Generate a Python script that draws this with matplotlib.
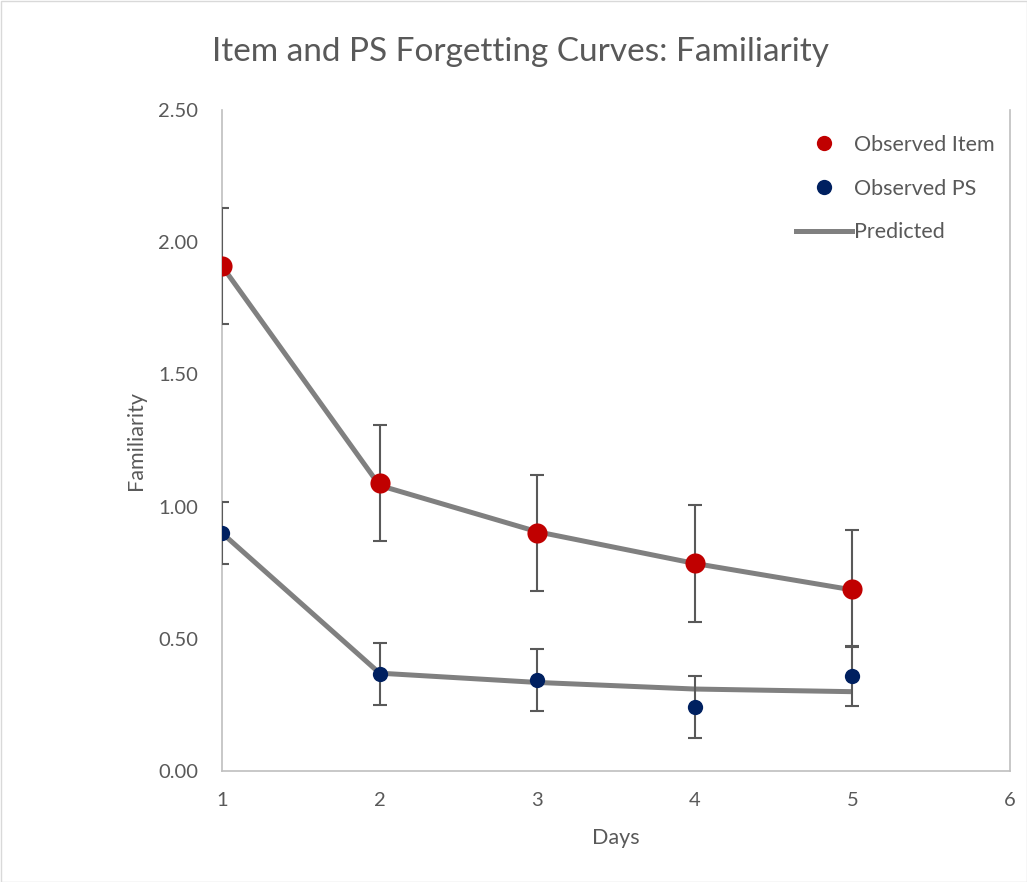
import matplotlib
matplotlib.use("Agg")
import matplotlib.pyplot as plt
from matplotlib.lines import Line2D
from matplotlib.patches import Rectangle

days = [1, 2, 3, 4, 5]
item_obs = [1.91, 1.09, 0.90, 0.785, 0.69]
item_err = [0.22, 0.22, 0.22, 0.22, 0.22]
ps_obs = [0.90, 0.367, 0.344, 0.242, 0.36]
ps_err = [0.117, 0.117, 0.117, 0.117, 0.113]
item_pred = [1.91, 1.08, 0.905, 0.785, 0.685]
ps_pred = [0.90, 0.37, 0.335, 0.31, 0.30]
yticks = [0.0, 0.5, 1.0, 1.5, 2.0, 2.5]
xticks = [1, 2, 3, 4, 5, 6]

plt.rcParams['font.family'] = ['Lato', 'DejaVu Sans']
fig = plt.figure(figsize=(10.27, 8.82), dpi=100)
ax = fig.add_axes([222/1027, 1 - 771/882, (1010-222)/1027, (771-110)/882])

txt = '#595959'
ax.plot(days, item_pred, color='#808080', lw=3.6, solid_capstyle='butt', zorder=2)
ax.plot(days, ps_pred, color='#808080', lw=3.6, solid_capstyle='butt', zorder=2)
ax.errorbar(days, item_obs, yerr=item_err, fmt='none', ecolor='#595959', elinewidth=1.5, capsize=5, capthick=1.5, zorder=3)
ax.errorbar(days, ps_obs, yerr=ps_err, fmt='none', ecolor='#595959', elinewidth=1.5, capsize=5, capthick=1.5, zorder=3)
ax.plot(days, item_obs, 'o', color='#C00000', ms=14.5, mew=0, zorder=4)
ax.plot(days, ps_obs, 'o', color='#002060', ms=11, mew=0, zorder=4)

ax.set_xlim(1, 6)
ax.set_ylim(0, 2.5)
ax.set_xticks(xticks)
ax.set_yticks(yticks)
ax.set_yticklabels([f"{v:.2f}" for v in yticks])
ax.spines['top'].set_visible(False)
for s in ['left', 'bottom', 'right']:
    ax.spines[s].set_color('#BFBFBF')
    ax.spines[s].set_linewidth(1.2)
ax.tick_params(axis='y', length=0, labelsize=14.5, colors=txt, pad=17)
ax.tick_params(axis='x', length=0, labelsize=14.5, colors=txt, pad=15)
ax.set_xlabel('Days', fontsize=15.5, color=txt, labelpad=14)
ax.set_ylabel('Familiarity', fontsize=15.5, color=txt, labelpad=9)
fig.text(521/1027, 1 - 52/882, 'Item and PS Forgetting Curves: Familiarity', ha='center', va='center',
         fontsize=24, color=txt)

handles = [
    Line2D([], [], marker='o', ls='none', color='#C00000', ms=11, mew=0),
    Line2D([], [], marker='o', ls='none', color='#002060', ms=11, mew=0),
    Line2D([], [], color='#808080', lw=3.6),
]
leg = ax.legend(handles, ['Observed Item', 'Observed PS', 'Predicted'], loc='upper right',
                bbox_to_anchor=(1.0, 0.985), frameon=False, fontsize=15.5, labelcolor=txt,
                handlelength=2.6, handletextpad=0.1, labelspacing=1.1, borderaxespad=0.3)

fig.patches.append(Rectangle((0.5/1027, 0.5/882), 1 - 1/1027, 1 - 1/882, transform=fig.transFigure,
                             fill=False, edgecolor='#D9D9D9', lw=1))
fig.savefig('out.png', dpi=100)
